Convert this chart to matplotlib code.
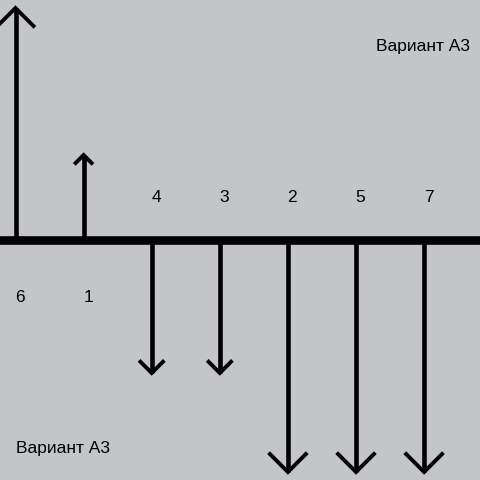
import numpy as np
from matplotlib import pyplot as plt

labels = ["6", "1", "4", "3", "2", "5", "7"]
values = [232, 85, -133, -133, -232, -232, -232]
title = "Вариант А3"

bg = "#c4c5c9"
step = 68.1  # px between arrows

fig = plt.figure(figsize=(4.8, 4.8), dpi=100, facecolor=bg)
ax = fig.add_axes([0, 0, 1, 1])
ax.set_facecolor(bg)
ax.set_xlim(-15.5 / step, (480 - 15.5) / step)
ax.set_ylim(-240, 240)
ax.axis("off")

# baseline
ax.axhline(0, color="black", lw=6.2, zorder=3)

for i, (lab, v) in enumerate(zip(labels, values)):
    ax.plot([i, i], [0, v], color="black", lw=3.3, solid_capstyle="butt", zorder=2)
    h = 0.068 * abs(v) + 2.2
    s = np.sign(v)
    ax.plot([i - h / step, i, i + h / step], [v - s * h, v, v - s * h],
            color="black", lw=2.8, solid_joinstyle="miter", zorder=2)
    ty = -58 if v > 0 else 42
    ax.text(i + 4.5 / step, ty, lab, ha="center", va="center", fontsize=12.5,
            family="Liberation Sans")

ax.text(423 / 480, 1 - 47 / 480, title, transform=ax.transAxes, ha="center",
        va="center", fontsize=12.5, family="Liberation Sans")
ax.text(63 / 480, 1 - 448 / 480, title, transform=ax.transAxes, ha="center",
        va="center", fontsize=12.5, family="Liberation Sans")

fig.savefig("out.png", dpi=100, facecolor=bg)
